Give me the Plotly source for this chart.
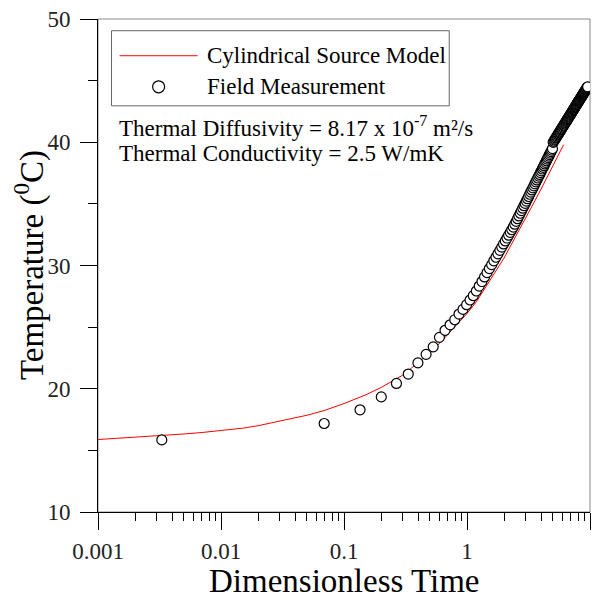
import plotly.graph_objects as go

# field measurement (dimensionless time, temperature in C)
field_time = [
    0.0033, 0.069, 0.135, 0.201, 0.267, 0.333, 0.399, 0.465, 0.531, 0.597,
    0.663, 0.729, 0.795, 0.861, 0.927, 0.993, 1.059, 1.125, 1.191, 1.257,
    1.323, 1.389, 1.455, 1.521, 1.587, 1.653, 1.719, 1.785, 1.851, 1.917,
    1.983, 2.049, 2.115, 2.181, 2.247, 2.313, 2.379, 2.445, 2.511, 2.577,
    2.643, 2.709, 2.775, 2.841, 2.907, 2.973, 3.039, 3.105, 3.171, 3.237,
    3.303, 3.369, 3.435, 3.501, 3.567, 3.633, 3.699, 3.765, 3.831, 3.897,
    3.963, 4.029, 4.095, 4.161, 4.227, 4.293, 4.359, 4.425, 4.491, 4.557,
    4.623, 4.689, 4.755, 4.821, 4.887, 4.953, 5.019, 5.085, 5.151, 5.217,
    5.283, 5.349, 5.415, 5.481, 5.547, 5.613, 5.679, 5.745, 5.811, 5.877,
    5.943, 6.009, 6.075, 6.141, 6.207, 6.273, 6.339, 6.405, 6.471, 6.537,
    6.603, 6.669, 6.735, 6.801, 6.867, 6.933, 6.999, 7.065, 7.131, 7.197,
    7.263, 7.329, 7.395, 7.461, 7.527, 7.593, 7.659, 7.725, 7.791, 7.857,
    7.923, 7.989, 8.055, 8.121, 8.187, 8.253, 8.319, 8.385, 8.451, 8.517,
    8.583, 8.649, 8.715, 8.781, 8.847, 8.913, 8.979, 9.045, 9.111, 9.177,
    9.243, 9.309, 9.375, 9.441, 9.507, 9.573,
]
field_temp = [
    15.85, 17.18, 18.29, 19.34, 20.43, 21.19, 22.10, 22.79, 23.40, 24.17,
    24.74, 25.19, 25.60, 26.06, 26.44, 26.82, 27.20, 27.55, 27.93, 28.33,
    28.70, 29.07, 29.42, 29.75, 30.07, 30.38, 30.67, 30.95, 31.23, 31.49,
    31.75, 31.99, 32.23, 32.46, 32.69, 32.90, 33.12, 33.35, 33.58, 33.80,
    34.02, 34.24, 34.45, 34.65, 34.85, 35.04, 35.23, 35.42, 35.60, 35.78,
    35.96, 36.13, 36.30, 36.46, 36.63, 36.79, 36.94, 37.10, 37.25, 37.39,
    37.54, 37.68, 37.83, 37.96, 38.10, 38.24, 38.37, 38.50, 38.63, 38.75,
    38.88, 39.00, 39.12, 39.24, 39.36, 39.48, 39.99, 40.08, 40.17, 40.26,
    40.35, 40.44, 40.52, 40.61, 40.69, 40.77, 40.85, 40.93, 41.02, 41.09,
    41.17, 41.25, 41.33, 41.40, 41.48, 41.55, 41.62, 41.69, 41.77, 41.84,
    41.91, 41.98, 42.05, 42.11, 42.18, 42.25, 42.31, 42.38, 42.44, 42.51,
    42.57, 42.64, 42.70, 42.76, 42.82, 42.88, 42.95, 43.01, 43.06, 43.12,
    43.18, 43.24, 43.30, 43.35, 43.41, 43.47, 43.52, 43.58, 43.63, 43.69,
    43.74, 43.80, 43.85, 43.90, 43.95, 44.00, 44.06, 44.11, 44.16, 44.21,
    44.26, 44.31, 44.36, 44.41, 44.46, 44.50,
]

# cylindrical source model curve
model_time = [0.001, 0.002, 0.003, 0.005, 0.007, 0.01, 0.015, 0.02, 0.03, 0.05,
              0.07, 0.1, 0.15, 0.2, 0.3, 0.4, 0.5, 0.6, 0.7, 0.8,
              1.0, 1.2, 1.5, 2.0, 2.5, 3.0, 3.5, 4.0, 5.0, 6.1]
model_temp = [15.88, 16.05, 16.18, 16.33, 16.45, 16.6, 16.8, 17.0, 17.35, 17.85,
              18.25, 18.8, 19.5, 20.1, 21.1, 22.1, 22.9, 23.7, 24.4, 25.0,
              26.1, 27.1, 28.6, 30.6, 32.4, 33.8, 35.1, 36.2, 38.1, 39.8]

x_ticks = [0.001, 0.01, 0.1, 1, 10]
x_labels = ["0.001", "0.01", "0.1", "1", "10"]
x_minor = [d * m for d in [0.001, 0.01, 0.1, 1] for m in range(2, 10)]

FONT = "Liberation Serif"

fig = go.Figure()
fig.add_trace(go.Scatter(x=model_time, y=model_temp, mode="lines",
                         line=dict(color="red", width=1),
                         name="Cylindrical Source Model", showlegend=False))
fig.add_trace(go.Scatter(x=field_time, y=field_temp, mode="markers",
                         marker=dict(symbol="circle", size=10, color="white",
                                     line=dict(color="black", width=1.2)),
                         name="Field Measurement", showlegend=False))

# plot frame (top/right in grey)
fig.add_shape(type="rect", xref="paper", yref="paper", x0=0, x1=1, y0=0, y1=1,
              line=dict(color="#888888", width=1), layer="below")

# legend box drawn by hand
fig.add_shape(type="rect", xref="paper", yref="paper",
              x0=0.0275, x1=0.7139, y0=0.8239, y1=0.9762,
              line=dict(color="#666666", width=1), fillcolor="white")
fig.add_shape(type="line", xref="paper", yref="paper",
              x0=0.0438, x1=0.2026, y0=0.9255, y1=0.9255,
              line=dict(color="red", width=1))
fig.add_shape(type="circle", xref="paper", yref="paper",
              xsizemode="pixel", ysizemode="pixel",
              xanchor=0.1232, yanchor=0.8625, x0=-6, x1=6, y0=-6, y1=6,
              line=dict(color="black", width=1.2), fillcolor="white")

def note(x, y, text, size=23, angle=0, anchor="left"):
    fig.add_annotation(x=x, y=y, xref="paper", yref="paper", text=text,
                       showarrow=False, xanchor=anchor, yanchor="middle",
                       textangle=angle,
                       font=dict(family=FONT, size=size, color="black"))

note(0.2169, 0.9255, "Cylindrical Source Model")
note(0.2169, 0.8625, "Field Measurement")
note(0.0377, 0.7813, "Thermal Diffusivity = 8.17 x 10<sup>-7</sup> m²/s")
note(0.0377, 0.7264, "Thermal Conductivity = 2.5 W/mK")

# axis titles
note(0.5, -0.140, "Dimensionless Time", size=33, anchor="center")
note(-0.139, 0.5, "Temperature (<sup>0</sup>C)", size=33, angle=-90, anchor="center")

fig.update_layout(
    width=601, height=599,
    margin=dict(l=98, r=11, t=19, b=87),
    paper_bgcolor="white", plot_bgcolor="white",
    font=dict(family=FONT, size=23, color="black"),
    showlegend=False,
    xaxis=dict(type="log", range=[-3, 1], tickvals=x_ticks, ticktext=x_labels,
               ticks="outside", ticklen=17, tickcolor="black", tickwidth=1,
               showline=True, linecolor="black", linewidth=1,
               showgrid=False, zeroline=False, ticklabelstandoff=1,
               automargin=False,
               tickfont=dict(family=FONT, size=23, color="#222222"),
               minor=dict(tickvals=x_minor, ticks="outside", ticklen=8,
                          tickcolor="black", showgrid=False)),
    yaxis=dict(range=[10, 50], dtick=10, ticks="outside", ticklen=17,
               tickcolor="black", tickwidth=1,
               showline=True, linecolor="black", linewidth=1,
               showgrid=False, zeroline=False, ticklabelstandoff=5,
               automargin=False,
               tickfont=dict(family=FONT, size=23, color="#222222"),
               minor=dict(dtick=5, ticks="outside", ticklen=9,
                          tickcolor="black", showgrid=False)),
)

fig.write_html("out.html", config={"displayModeBar": False},
               post_script="document.body.style.margin='0';document.body.style.padding='0';")
